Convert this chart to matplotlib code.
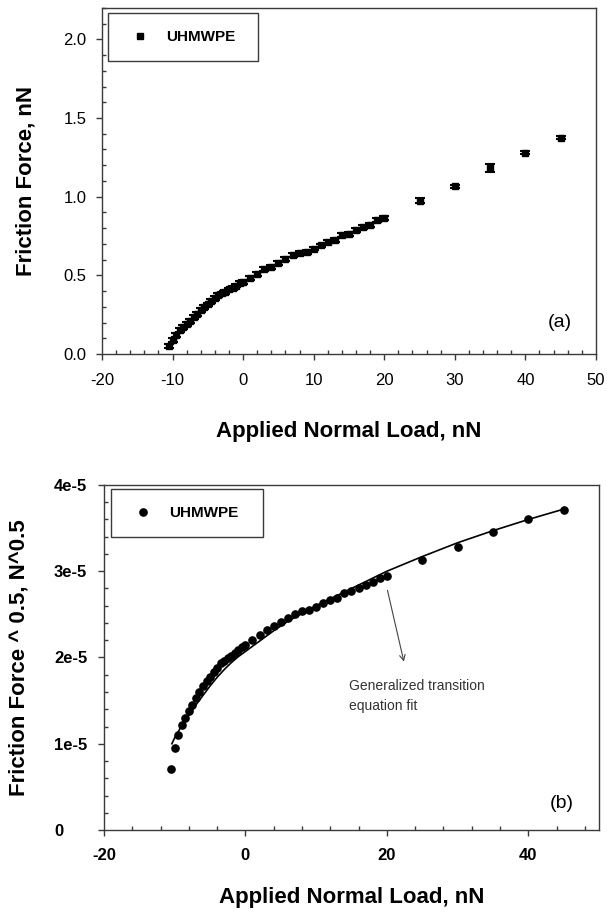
#!/usr/bin/env python3
"""
Friction force vs applied normal load for UHMWPE
(a) raw friction force with error bars, (b) square root of friction force with transition fit
"""

import numpy as np
import matplotlib
matplotlib.use('Agg')
import matplotlib.pyplot as plt
from matplotlib.lines import Line2D
from matplotlib.ticker import MultipleLocator, FixedLocator

plt.rcParams['font.family'] = ['Liberation Sans', 'DejaVu Sans']
plt.rcParams['axes.unicode_minus'] = False

# Panel (a): applied normal load (nN) and friction force (nN)
load_nN = [-10.5, -10, -9.5, -9, -8.5, -8, -7.5, -7, -6.5, -6, -5.5, -5, -4.5, -4,
           -3.5, -3, -2.5, -2, -1.5, -1, -0.5, 0, 1, 2, 3, 4, 5, 6, 7, 8, 9, 10,
           11, 12, 13, 14, 15, 16, 17, 18, 19, 20, 25, 30, 35, 40, 45]
friction_nN = [0.05, 0.09, 0.12, 0.15, 0.17, 0.19, 0.21, 0.235, 0.255, 0.28, 0.30,
               0.315, 0.335, 0.355, 0.375, 0.385, 0.395, 0.41, 0.42, 0.435, 0.45,
               0.46, 0.485, 0.51, 0.54, 0.555, 0.58, 0.605, 0.63, 0.645, 0.65, 0.67,
               0.69, 0.715, 0.725, 0.755, 0.765, 0.79, 0.805, 0.82, 0.85, 0.865,
               0.975, 1.065, 1.18, 1.28, 1.375]
friction_err = [0.012] * 42 + [0.015, 0.008, 0.025, 0.01, 0.01]

# Panel (b): square root of friction force (N^0.5)
sqrt_friction = [0.71e-5, 0.95e-5, 1.10e-5, 1.22e-5, 1.30e-5, 1.38e-5, 1.45e-5,
                 1.53e-5, 1.60e-5, 1.67e-5, 1.73e-5, 1.77e-5, 1.83e-5, 1.88e-5,
                 1.94e-5, 1.96e-5, 1.99e-5, 2.02e-5, 2.05e-5, 2.09e-5, 2.12e-5,
                 2.15e-5, 2.20e-5, 2.26e-5, 2.32e-5, 2.36e-5, 2.41e-5, 2.46e-5,
                 2.51e-5, 2.54e-5, 2.55e-5, 2.59e-5, 2.63e-5, 2.67e-5, 2.69e-5,
                 2.75e-5, 2.77e-5, 2.81e-5, 2.84e-5, 2.87e-5, 2.92e-5, 2.94e-5,
                 3.13e-5, 3.28e-5, 3.45e-5, 3.60e-5, 3.71e-5]

# Generalized transition equation fit curve
fit_load = [-10.4, -10, -9.5, -9, -8, -7, -6, -5, -4, -3, -2, -1, 0, 2, 4, 6, 8,
            10, 12, 15, 20, 25, 30, 35, 40, 45]
fit_sqrt = [1.00e-5, 1.07e-5, 1.14e-5, 1.21e-5, 1.33e-5, 1.45e-5, 1.56e-5, 1.67e-5,
            1.77e-5, 1.86e-5, 1.94e-5, 2.01e-5, 2.07e-5, 2.19e-5, 2.31e-5, 2.42e-5,
            2.51e-5, 2.60e-5, 2.68e-5, 2.80e-5, 3.00e-5, 3.17e-5, 3.33e-5, 3.47e-5,
            3.60e-5, 3.72e-5]

ytick_b = [0, 1e-5, 2e-5, 3e-5, 4e-5]
ytick_b_labels = ['0', '1e-5', '2e-5', '3e-5', '4e-5']

SPINE = '#3a3a3a'


def style_axes(ax):
    for s in ax.spines.values():
        s.set_color(SPINE)
        s.set_linewidth(1.0)
    ax.tick_params(which='both', top=False, right=False, color=SPINE, width=1.0)
    ax.tick_params(which='major', direction='out', length=4)
    ax.tick_params(which='minor', direction='in', length=3)


def main():
    fig = plt.figure(figsize=(6.07, 9.13), dpi=100)

    # ---- Panel (a)
    ax1 = fig.add_axes([0.168, 0.6123, 0.8138, 0.379])
    ax1.errorbar(load_nN, friction_nN, yerr=friction_err, fmt='s', color='black',
                 markersize=4.5, ecolor='black', elinewidth=1.0, capsize=3.5,
                 capthick=1.5)
    ax1.set_xlim(-20, 50)
    ax1.set_ylim(0, 2.2)
    ax1.xaxis.set_major_locator(MultipleLocator(10))
    ax1.xaxis.set_minor_locator(MultipleLocator(2))
    ax1.yaxis.set_major_locator(FixedLocator([0, 0.5, 1.0, 1.5, 2.0]))
    ax1.yaxis.set_minor_locator(MultipleLocator(0.1))
    ax1.yaxis.set_major_formatter(plt.FuncFormatter(lambda v, p: f'{v:.1f}'))
    style_axes(ax1)
    ax1.tick_params(axis='x', which='major', pad=10, labelsize=12)
    ax1.tick_params(axis='y', which='major', pad=7, labelsize=12)
    ax1.set_xlabel('Applied Normal Load, nN', fontsize=16, fontweight='bold')
    ax1.set_ylabel('Friction Force, nN', fontsize=16, fontweight='bold')
    ax1.xaxis.set_label_coords(0.5, -0.195)
    ax1.yaxis.set_label_coords(-0.132, 0.5)
    ax1.text(0.926, 0.092, '(a)', transform=ax1.transAxes, fontsize=14,
             ha='center', va='center')
    handle1 = Line2D([], [], linestyle='none', marker='s', color='black',
                     markersize=4.5)
    leg1 = ax1.legend([handle1], ['UHMWPE'], loc='upper left',
                      bbox_to_anchor=(0.012, 0.984, 0.304, 0.0),
                      mode='expand', borderaxespad=0, borderpad=1.1, fancybox=False,
                      edgecolor=SPINE, framealpha=1, handlelength=2.0,
                      handletextpad=0.7, prop={'size': 11, 'weight': 'bold'})
    leg1.get_frame().set_linewidth(1.0)

    # ---- Panel (b)
    ax2 = fig.add_axes([0.1713, 0.0909, 0.8155, 0.3779])
    ax2.plot(fit_load, fit_sqrt, color='black', linewidth=1.2)
    ax2.plot(load_nN, sqrt_friction, 'o', color='black', markersize=5.2)
    ax2.set_xlim(-20, 50)
    ax2.set_ylim(0, 4e-5)
    ax2.xaxis.set_major_locator(FixedLocator([-20, 0, 20, 40]))
    ax2.xaxis.set_minor_locator(MultipleLocator(4))
    ax2.set_yticks(ytick_b)
    ax2.set_yticklabels(ytick_b_labels)
    ax2.yaxis.set_minor_locator(MultipleLocator(0.2e-5))
    style_axes(ax2)
    ax2.tick_params(axis='x', which='major', pad=9, labelsize=12)
    ax2.tick_params(axis='y', which='major', pad=32, labelsize=12)
    for lab in ax2.get_xticklabels() + ax2.get_yticklabels():
        lab.set_fontweight('bold')
    for lab in ax2.get_yticklabels():
        lab.set_horizontalalignment('left')
    ax2.set_xlabel('Applied Normal Load, nN', fontsize=16, fontweight='bold')
    ax2.set_ylabel('Friction Force ^ 0.5, N^0.5', fontsize=16, fontweight='bold')
    ax2.xaxis.set_label_coords(0.5, -0.165)
    ax2.yaxis.set_label_coords(-0.15, 0.5)
    ax2.text(0.925, 0.078, '(b)', transform=ax2.transAxes, fontsize=14,
             ha='center', va='center')
    ax2.annotate('', xy=(22.5, 1.92e-5), xytext=(20, 2.81e-5),
                 arrowprops=dict(arrowstyle='->', color='#444444', lw=0.8))
    ax2.text(14.6, 1.555e-5, 'Generalized transition\nequation fit', fontsize=10,
             color='#333333', ha='left', va='center', linespacing=1.6)
    handle2 = Line2D([], [], linestyle='none', marker='o', color='black',
                     markersize=5.2)
    leg2 = ax2.legend([handle2], ['UHMWPE'], loc='upper left',
                      bbox_to_anchor=(0.0135, 0.988, 0.307, 0.0),
                      mode='expand', borderaxespad=0, borderpad=1.1, fancybox=False,
                      edgecolor=SPINE, framealpha=1, handlelength=2.0,
                      handletextpad=0.7, prop={'size': 11, 'weight': 'bold'})
    leg2.get_frame().set_linewidth(1.0)

    fig.savefig('out.png', dpi=100)


if __name__ == "__main__":
    main()
